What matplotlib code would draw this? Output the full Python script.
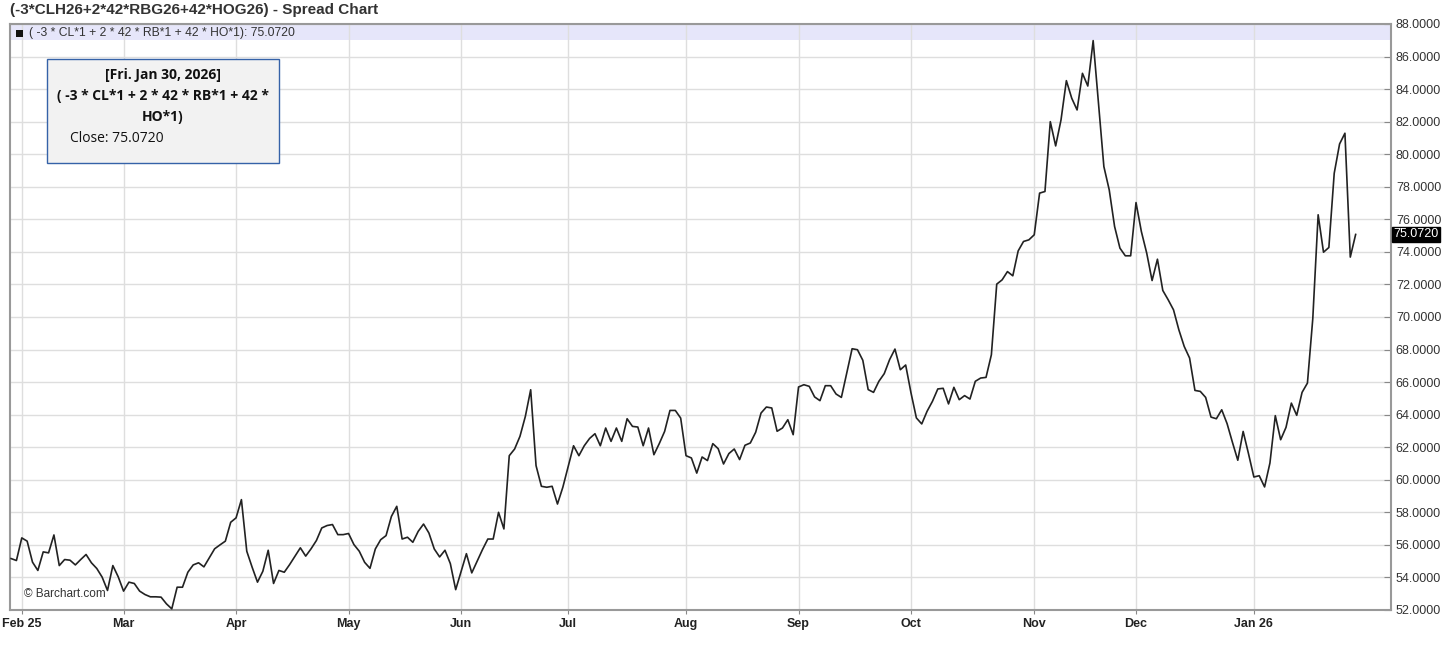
import numpy as np
import pandas as pd
import matplotlib
matplotlib.use("Agg")
import matplotlib.pyplot as plt
from matplotlib.patches import Rectangle

# trading days (NYSE holidays removed)
holidays = ["2025-02-17", "2025-04-18", "2025-05-26", "2025-06-19", "2025-07-04",
            "2025-09-01", "2025-11-27", "2025-12-25", "2026-01-01", "2026-01-19"]
dates = pd.bdate_range("2025-01-30", "2026-01-30", freq="C", holidays=holidays)

# daily close of the spread, month by month
jan25 = [55.16, 55.04]
feb25 = [56.43, 56.23, 54.94, 54.43, 55.57, 55.51, 56.61, 54.73, 55.10, 55.06,
         54.77, 55.10, 55.41, 54.90, 54.55, 54.02, 53.20, 54.73, 54.04]
mar25 = [53.16, 53.71, 53.63, 53.16, 52.95, 52.81, 52.81, 52.79, 52.38, 52.07,
         53.40, 53.40, 54.32, 54.77, 54.90, 54.65, 55.20, 55.76, 56.00, 56.23, 57.39]
apr25 = [57.66, 58.78, 55.61, 54.63, 53.71, 54.38, 55.67, 53.63, 54.43, 54.32,
         54.79, 55.31, 55.82, 55.31, 55.76, 56.27, 57.04, 57.19, 57.25, 56.63, 56.63]
may25 = [56.70, 56.02, 55.61, 54.93, 54.56, 55.75, 56.32, 56.57, 57.75, 58.37,
         56.36, 56.47, 56.16, 56.83, 57.28, 56.73, 55.75, 55.26, 55.67, 54.85, 53.25]
jun25 = [54.36, 55.46, 54.28, 54.99, 55.71, 56.36, 56.36, 58.00, 56.98, 61.48,
         61.89, 62.67, 63.89, 65.53, 60.87, 59.60, 59.54, 59.60, 58.51, 59.54]
jul25 = [60.82, 62.09, 61.48, 62.09, 62.54, 62.83, 62.09, 63.18, 62.36, 63.18,
         62.36, 63.75, 63.28, 63.24, 62.09, 63.18, 61.54, 62.22, 62.97, 64.26,
         64.26, 63.79]
aug25 = [61.48, 61.34, 60.41, 61.40, 61.18, 62.22, 61.91, 60.97, 61.61, 61.89,
         61.24, 62.12, 62.26, 62.92, 64.10, 64.47, 64.41, 62.98, 63.18, 63.69, 62.77]
sep25 = [65.70, 65.84, 65.74, 65.09, 64.86, 65.78, 65.78, 65.27, 65.06, 66.56,
         68.05, 67.99, 67.34, 65.54, 65.37, 66.05, 66.52, 67.38, 68.03, 66.76, 67.05]
oct25 = [65.33, 63.80, 63.43, 64.21, 64.82, 65.58, 65.62, 64.66, 65.68, 64.92,
         65.17, 64.96, 66.05, 66.25, 66.29, 67.68, 72.02, 72.28, 72.79, 72.53,
         74.06, 74.64, 74.74]
nov25 = [75.05, 77.61, 77.71, 82.00, 80.51, 82.11, 84.52, 83.44, 82.72, 84.97,
         84.19, 86.98, 83.13, 79.24, 77.81, 75.56, 74.23, 73.76, 73.76]
dec25 = [77.03, 75.25, 73.92, 72.24, 73.55, 71.63, 71.06, 70.44, 69.21, 68.19,
         67.48, 65.49, 65.43, 65.06, 63.85, 63.75, 64.30, 63.45, 62.30, 61.20,
         62.97, 61.60]
jan26 = [60.17, 60.25, 59.56, 61.03, 63.94, 62.46, 63.22, 64.71, 63.96, 65.37,
         65.94, 69.90, 76.28, 73.98, 74.27, 78.83, 80.63, 81.29, 73.68, 75.072]

close = np.array(jan25 + feb25 + mar25 + apr25 + may25 + jun25 + jul25 + aug25
                 + sep25 + oct25 + nov25 + dec25 + jan26)
assert len(close) == len(dates), (len(close), len(dates))
x = np.arange(len(close))

# month ticks = first trading day of each month
month_idx = [i for i in range(1, len(dates)) if dates[i].month != dates[i - 1].month]
month_lbl = []
for i in month_idx:
    d = dates[i]
    if i == month_idx[0] or d.month == 1:
        month_lbl.append(d.strftime("%b %y"))
    else:
        month_lbl.append(d.strftime("%b"))

W, H = 1456, 652
fig = plt.figure(figsize=(W / 100, H / 100), dpi=100)
ax = fig.add_axes([10 / W, 42 / H, 1381 / W, 586 / H])

ax.plot(x, close, color="#222222", lw=1.2, zorder=3)
ax.set_xlim(-0.2, 257.6)
ax.set_ylim(52, 88)

# legend band on top of the plot
ax.add_patch(Rectangle((0, 1 - 16 / 586), 1, 16 / 586, transform=ax.transAxes,
                       facecolor="#e6e6fa", edgecolor="none", zorder=0.2))

ax.set_axisbelow(True)
ax.grid(color="#dedede", lw=1)

yt = np.arange(52, 89, 2)
ax.yaxis.tick_right()
ax.set_yticks(yt)
ax.set_yticklabels([f"{v:.4f}" for v in yt], fontsize=9, color="#333333",
                   family=["Liberation Sans", "DejaVu Sans"])
ax.tick_params(axis="y", direction="in", length=5, pad=3.5, color="#888888")

ax.set_xticks(month_idx)
ax.set_xticklabels(month_lbl, fontsize=9, fontweight="bold", color="#222222",
                   family=["Liberation Sans Narrow", "Liberation Sans", "DejaVu Sans"])
ax.tick_params(axis="x", direction="out", length=3, pad=3, color="#888888")

for s in ax.spines.values():
    s.set_color("#999999")
    s.set_linewidth(1.5)

# last price tag
ax.text(1.0015, 75.072, "75.0720", transform=ax.get_yaxis_transform(), ha="left",
        va="center", fontsize=9, color="white", family=["Liberation Sans", "DejaVu Sans"],
        bbox=dict(boxstyle="square,pad=0.12", fc="black", ec="black"), zorder=6, clip_on=False)

fig.text(10 / W, 1 - 10 / H, "(-3*CLH26+2*42*RBG26+42*HOG26) - Spread Chart",
         ha="left", va="center", fontsize=11, fontweight="bold", color="#333333",
         family=["Liberation Sans", "DejaVu Sans"])
fig.add_artist(Rectangle((16 / W, 1 - 37 / H), 7 / W, 7 / H, transform=fig.transFigure,
                         facecolor="#111111", edgecolor="none", zorder=5))
fig.text(29 / W, 1 - 33 / H, "( -3 * CL*1 + 2 * 42 * RB*1 + 42 * HO*1): 75.0720",
         ha="left", va="center", fontsize=8.7, color="#333333",
         family=["Liberation Sans", "DejaVu Sans"])
fig.text(24 / W, 1 - 594 / H, "\u00a9 Barchart.com", ha="left", va="center",
         fontsize=8.5, color="#333333", family=["Liberation Sans", "DejaVu Sans"])

# tooltip box
fig.add_artist(Rectangle((47 / W, 1 - 163 / H), 232 / W, 104 / H, transform=fig.transFigure,
                         facecolor="#f2f2f2", edgecolor="#3562a8", lw=1, zorder=5))
tip = dict(ha="center", va="center", fontsize=10, color="#111111", zorder=6,
           family=["Open Sans", "DejaVu Sans"])
fig.text(163 / W, 1 - 75 / H, "[Fri. Jan 30, 2026]", fontweight="bold", **tip)
fig.text(163 / W, 1 - 96 / H, "( -3 * CL*1 + 2 * 42 * RB*1 + 42 *", fontweight="bold", **tip)
fig.text(163 / W, 1 - 117 / H, "HO*1)", fontweight="bold", **tip)
tip["ha"] = "left"
fig.text(70 / W, 1 - 138 / H, "Close: 75.0720", **tip)

fig.savefig("out.png", dpi=100)
